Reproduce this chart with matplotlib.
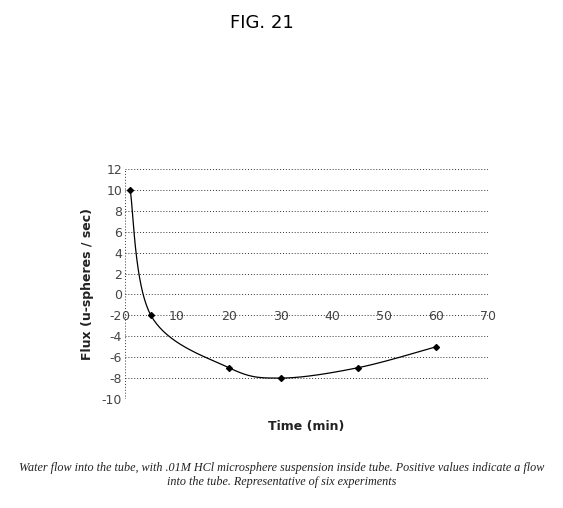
import numpy as np
import matplotlib.pyplot as plt

plt.rcParams['axes.unicode_minus'] = False

# Values
time_min = [1, 5, 20, 30, 45, 60]
flux = [10, -2, -7, -8, -7, -5]
x_ticks = [0, 10, 20, 30, 40, 50, 60, 70]
y_ticks = [-10, -8, -6, -4, -2, 0, 2, 4, 6, 8, 10, 12]


def smooth_curve(xs, ys, n=40):
    # Catmull-Rom style smoothing, like the spreadsheet "smoothed line"
    pts = np.column_stack([xs, ys]).astype(float)
    pts = np.vstack([pts[0], pts, pts[-1]])
    out = []
    for i in range(1, len(pts) - 2):
        p0, p1, p2, p3 = pts[i - 1], pts[i], pts[i + 1], pts[i + 2]
        t = np.linspace(0, 1, n)[:, None]
        seg = 0.5 * ((2 * p1) + (-p0 + p2) * t
                     + (2 * p0 - 5 * p1 + 4 * p2 - p3) * t ** 2
                     + (-p0 + 3 * p1 - 3 * p2 + p3) * t ** 3)
        out.append(seg)
    out = np.vstack(out)
    return out[:, 0], out[:, 1]


fig = plt.figure(figsize=(5.63, 5.08), dpi=100)
ax = fig.add_axes([0.222, 0.2146, 0.645, 0.4525])

sx, sy = smooth_curve(time_min, flux)
ax.plot(sx, sy, color='black', lw=0.9)
ax.plot(time_min, flux, 'D', color='black', markersize=3)

ax.set_xlim(0, 70)
ax.set_ylim(-10, 12)
ax.set_xticks(x_ticks)
ax.set_yticks(y_ticks)
ax.grid(True, axis='y', color='#333333', linestyle=(0, (1, 2)), lw=0.7)
ax.axvline(0, color='#333333', linestyle=(0, (1, 2)), lw=0.7)

for s in ax.spines.values():
    s.set_visible(False)
ax.spines['bottom'].set_position(('data', 0))
ax.tick_params(axis='both', length=0, labelsize=9, labelcolor='#444444')
ax.tick_params(axis='x', pad=11)
ax.tick_params(axis='y', pad=2)

ax.set_xlabel('Time (min)', fontsize=9, fontweight='bold', color='#222222')
ax.xaxis.set_label_coords(0.5, -0.09)
ax.set_ylabel('Flux (u-spheres / sec)', fontsize=9, fontweight='bold', color='#222222')
ax.yaxis.set_label_coords(-0.085, 0.5)

fig.text(0.465, 0.955, 'FIG. 21', ha='center', va='center', fontsize=13)
fig.text(0.5, 0.065,
         'Water flow into the tube, with .01M HCl microsphere suspension inside tube. Positive values indicate a flow\n'
         'into the tube. Representative of six experiments',
         ha='center', va='center', fontsize=8.7, style='italic', family='Liberation Serif',
         linespacing=1.3, color='#222222')

fig.savefig('out.png', dpi=100)
